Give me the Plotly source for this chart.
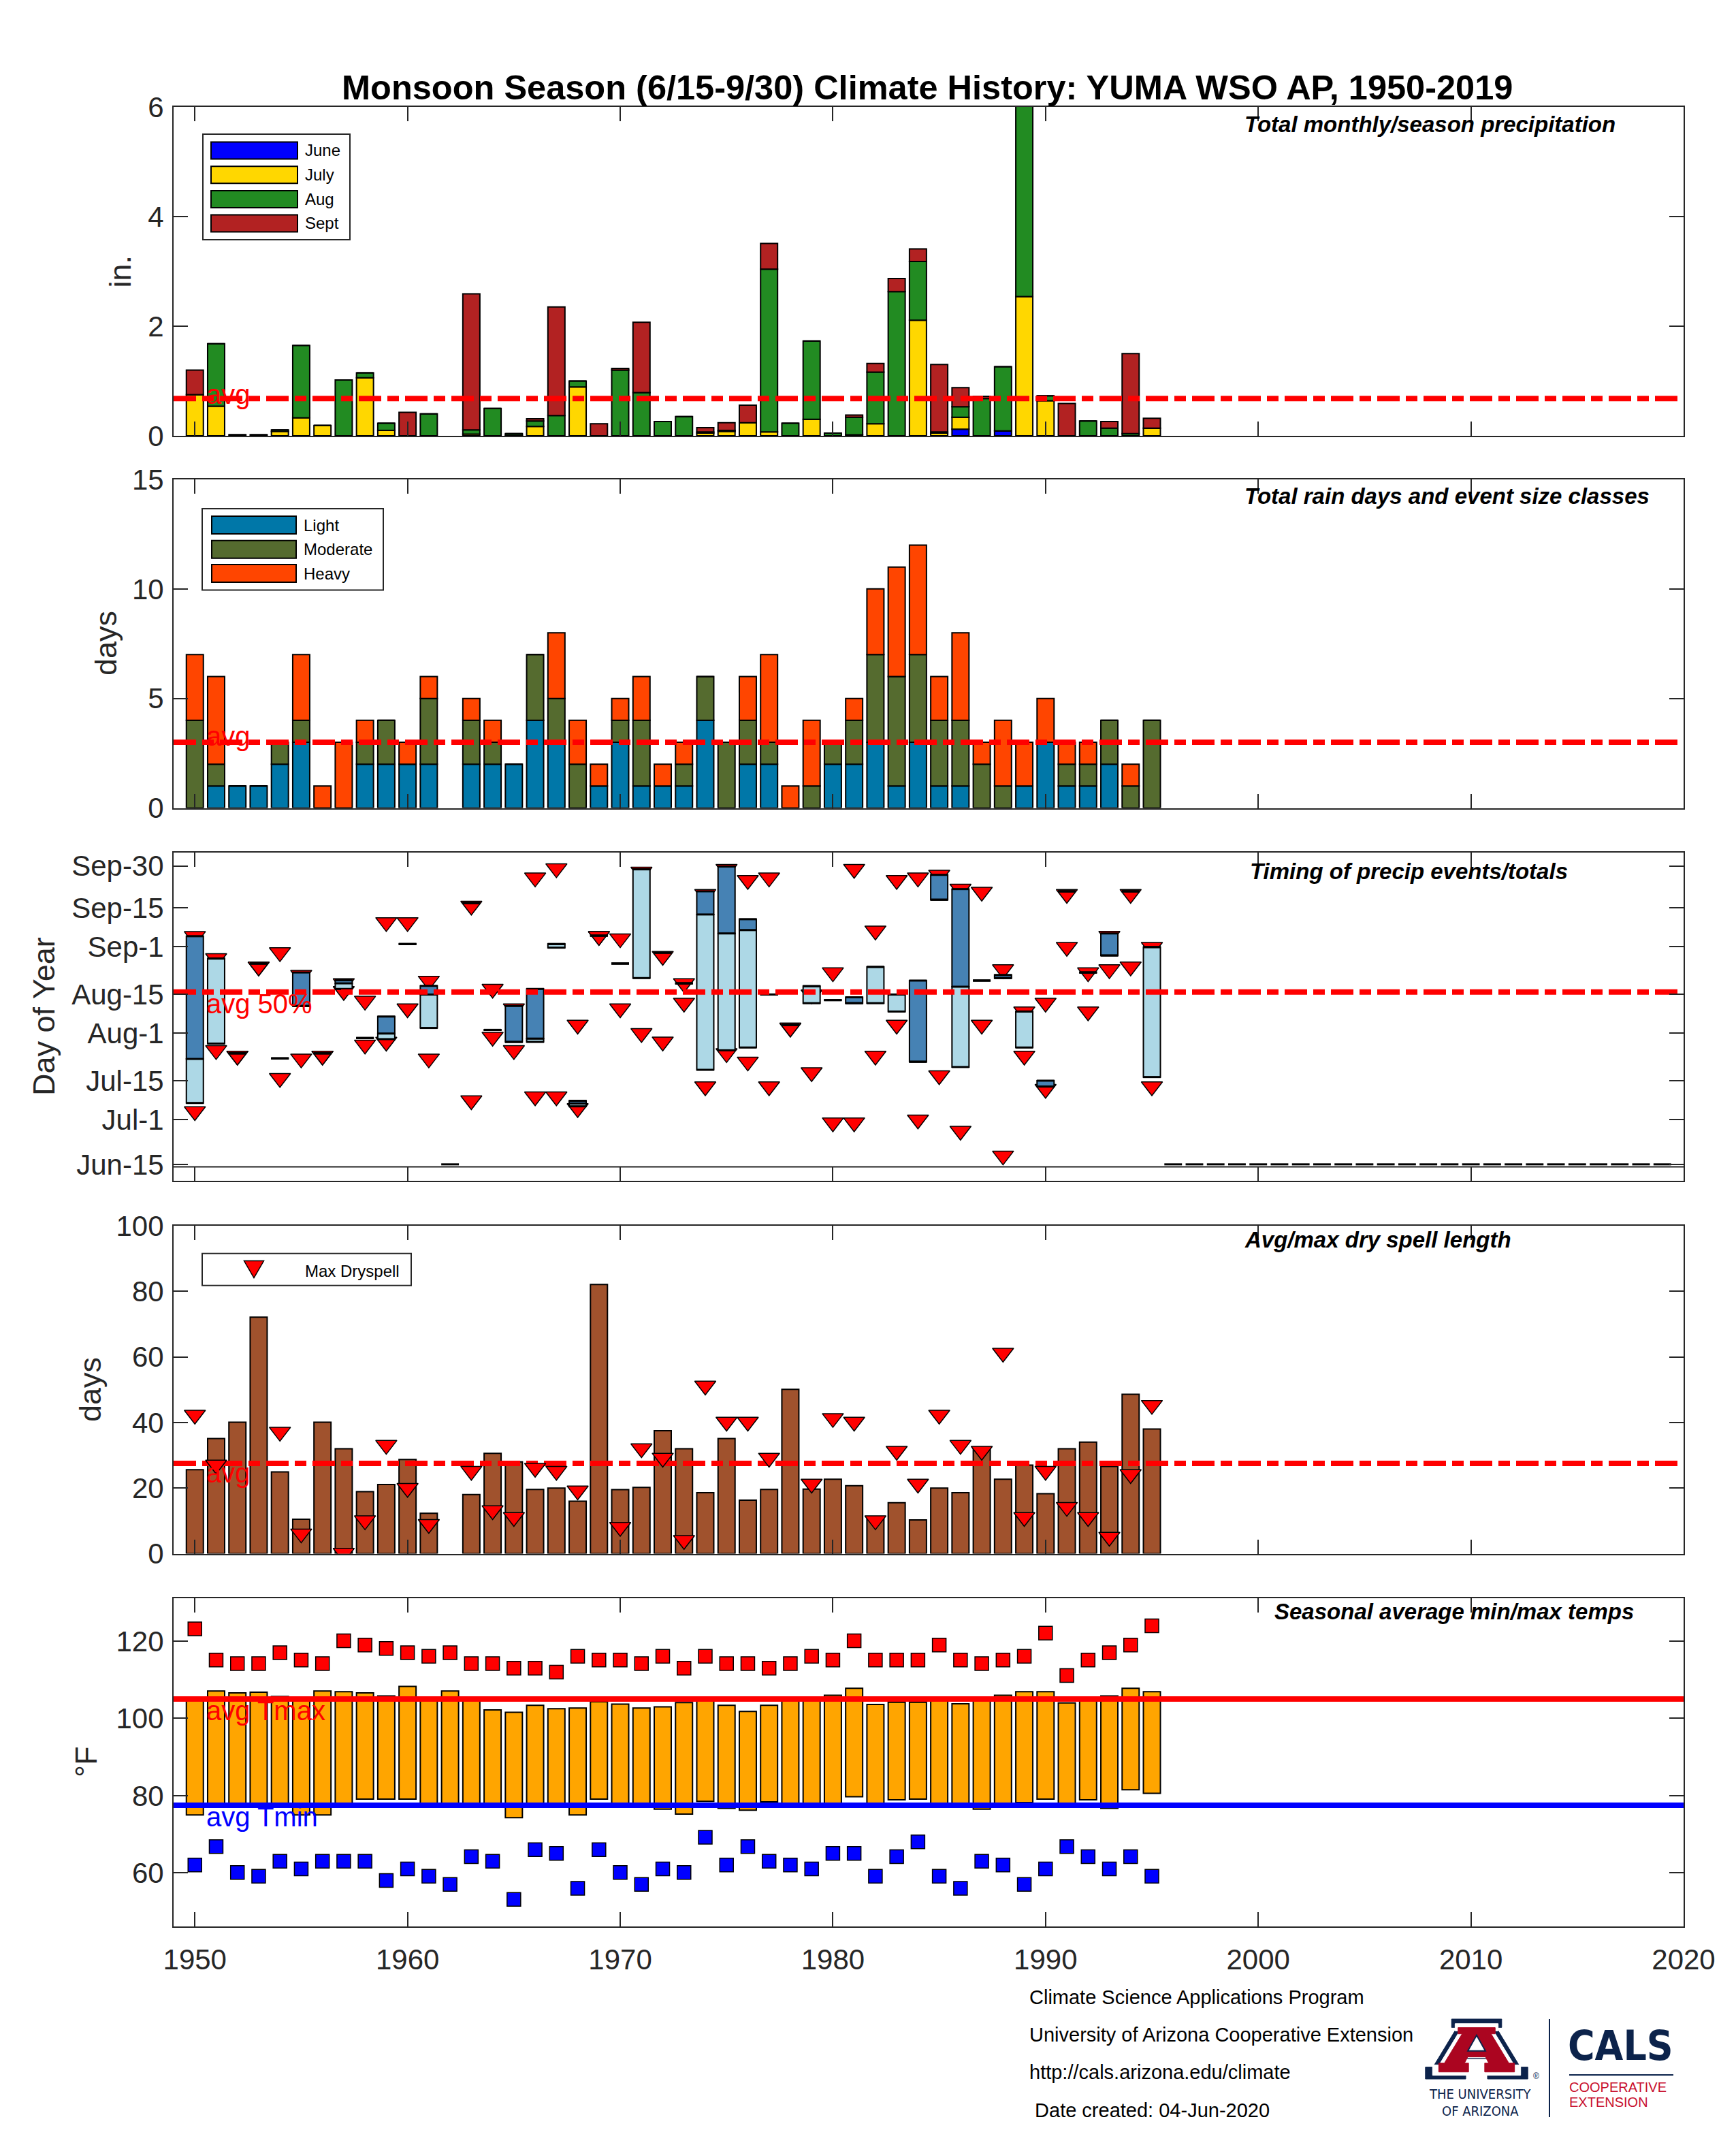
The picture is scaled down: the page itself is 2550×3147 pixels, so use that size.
import plotly.graph_objects as go

# ---------------------------------------------------------------- data
N = None
years = list(range(1950, 1996))

# Panel 1: monthly precipitation (in.)
precip_jun = [0, 0, 0, 0, 0, 0, 0, 0, 0, 0,
              0, 0, N, 0, 0, 0, 0, 0, 0, 0,
              0, 0, 0, 0, 0, 0, 0, 0, 0, 0,
              0, 0, 0, 0, 0, 0, 0.12, 0, 0.09, 0,
              0, 0, 0, 0, 0, 0]
precip_jul = [0.75, 0.54, 0, 0, 0.08, 0.33, 0.19, 0, 1.06, 0.10,
              0, 0, N, 0.03, 0, 0.01, 0.17, 0, 0.89, 0,
              0, 0, 0, 0, 0.05, 0.08, 0.24, 0.07, 0, 0.30,
              0, 0.02, 0.22, 0, 2.11, 0.05, 0.22, 0, 0, 2.54,
              0.64, 0, 0, 0, 0, 0.14]
precip_aug = [0, 1.14, 0.02, 0.02, 0.03, 1.32, 0, 1.02, 0.09, 0.13,
              0, 0.40, N, 0.08, 0.50, 0.03, 0.10, 0.37, 0.11, 0,
              1.20, 0.79, 0.26, 0.35, 0.02, 0.02, 0, 2.97, 0.23, 1.43,
              0.05, 0.32, 0.94, 2.63, 1.07, 0.02, 0.19, 0.68, 1.17, 3.55,
              0.09, 0, 0.27, 0.14, 0.04, 0]
precip_sep = [0.45, 0, 0, 0, 0, 0, 0, 0, 0, 0,
              0.43, 0, N, 2.48, 0, 0, 0.04, 1.98, 0, 0.22,
              0.03, 1.28, 0, 0, 0.08, 0.14, 0.32, 0.47, 0, 0,
              0, 0.04, 0.16, 0.24, 0.23, 1.23, 0.35, 0.04, 0, 0,
              0, 0.59, 0, 0.12, 1.46, 0.18]
avg_precip = 0.68

# Panel 2: rain days by event size
days_light = [0, 1, 1, 1, 2, 3, 0, 0, 2, 2,
              2, 2, N, 2, 2, 2, 4, 3, 0, 1,
              3, 1, 1, 1, 4, 0, 2, 2, 0, 0,
              2, 2, 3, 1, 3, 1, 1, 0, 0, 1,
              3, 1, 1, 2, 0, 0]
days_moderate = [4, 1, 0, 0, 1, 1, 0, 0, 1, 2,
                 0, 3, N, 2, 1, 0, 3, 2, 2, 0,
                 1, 3, 0, 1, 2, 3, 2, 1, 0, 1,
                 1, 2, 4, 5, 4, 3, 3, 2, 1, 0,
                 0, 1, 1, 2, 1, 4]
days_heavy = [3, 4, 0, 0, 0, 3, 1, 3, 1, 0,
              1, 1, N, 1, 1, 0, 0, 3, 2, 1,
              1, 2, 1, 1, 0, 0, 2, 4, 1, 3,
              0, 1, 3, 5, 5, 2, 4, 1, 3, 2,
              2, 1, 1, 0, 1, 0]
avg_days = 3.0

# Panel 3: timing (day of year)
timing_p25 = [188.0, 209.3, 205.8, 238.0, 204.0, 222.8, 205.8, 228.9, 211.3, 210.9,
              245.0, 214.9, N, 259.7, 214.2, 209.9, 209.9, 243.7, 186.8, 248.0,
              238.0, 232.8, 241.9, 230.9, 199.9, 206.9, 207.9, 226.9, 216.0, 223.8,
              224.9, 223.8, 223.8, 220.8, 202.8, 260.9, 200.9, 231.9, 232.8, 207.9,
              193.9, 263.9, 234.8, 240.9, 263.9, 197.3]
timing_p50 = [203.8, 239.8, 205.8, 238.0, 204.0, 222.8, 205.8, 230.9, 211.3, 212.9,
              245.0, 226.9, N, 259.7, 214.2, 209.9, 211.1, 245.0, 187.8, 248.0,
              238.0, 271.8, 241.9, 230.9, 255.6, 248.8, 250.0, 226.9, 216.0, 229.9,
              224.9, 223.8, 236.8, 226.9, 202.8, 260.9, 229.7, 231.9, 232.8, 220.8,
              193.9, 263.9, 234.8, 240.9, 263.9, 243.9]
timing_p75 = [247.8, 239.8, 205.8, 238.0, 204.0, 234.8, 205.8, 232.0, 211.3, 219.0,
              245.0, 230.0, N, 259.7, 214.2, 222.8, 228.9, 245.0, 188.8, 248.0,
              238.0, 271.8, 241.9, 230.9, 263.9, 272.8, 253.9, 226.9, 216.0, 229.9,
              224.9, 225.9, 236.8, 226.9, 231.9, 269.8, 264.7, 231.9, 233.9, 220.8,
              196.0, 263.9, 234.8, 248.8, 263.9, 243.9]
event_last = [247.8, 239.9, 204.9, 236.9, 242.0, 233.9, 204.9, 230.9, 224.6, 252.8,
              252.8, 231.8, N, 258.7, 228.9, 221.9, 268.8, 272.1, 216.0, 247.8,
              247.0, 270.9, 240.7, 230.9, 262.9, 271.9, 267.9, 268.8, 215.0, 226.9,
              234.8, 271.9, 249.8, 267.9, 268.8, 269.8, 264.8, 263.7, 235.9, 220.8,
              223.9, 262.9, 234.8, 247.9, 262.9, 243.9]
event_first = [185.0, 206.9, 204.9, 236.9, 196.9, 203.9, 204.9, 228.1, 208.9, 209.9,
               221.9, 203.9, N, 188.9, 211.7, 206.9, 190.3, 190.3, 186.1, 247.8,
               221.9, 213.0, 210.0, 223.9, 193.9, 205.8, 202.8, 193.9, 215.0, 199.0,
               181.0, 181.0, 204.9, 216.0, 182.0, 197.9, 178.0, 216.0, 169.1, 204.9,
               193.0, 243.9, 220.8, 235.9, 236.9, 193.9]
no_data_years = [1962, 1996, 1997, 1998, 1999, 2000, 2001, 2002, 2003, 2004, 2005,
                 2006, 2007, 2008, 2009, 2010, 2011, 2012, 2013, 2014, 2015,
                 2016, 2017, 2018, 2019]
no_data_day = 166
timing_base_line = 165.1
avg_timing50 = 227.8
timing_tick_days = [166, 182, 196, 213, 227, 244, 258, 273]
timing_tick_labels = ["Jun-15", "Jul-1", "Jul-15", "Aug-1", "Aug-15", "Sep-1", "Sep-15", "Sep-30"]

# Panel 4: dry spells (days)
dryspell_avg = [25.6, 35.1, 40.1, 72.1, 24.9, 10.5, 40.1, 32.0, 18.9, 21.1,
                28.7, 12.3, N, 18.0, 30.6, 28.0, 19.6, 20.0, 16.0, 82.1,
                19.5, 20.2, 37.5, 32.0, 18.6, 35.1, 16.3, 19.6, 50.1, 19.7,
                22.7, 20.7, 11.0, 15.5, 10.3, 20.0, 18.6, 32.5, 22.7, 27.0,
                18.3, 32.0, 34.0, 26.6, 48.6, 38.0]
dryspell_max = [42.3, 27.1, N, N, 37.1, 6.1, N, 0.2, 10.1, 33.1,
                20.0, 9.0, N, 25.2, 13.2, 11.1, 26.1, 25.2, 19.2, N,
                8.1, 32.1, 29.2, 4.1, 51.2, 40.2, 40.2, 29.2, N, 21.3,
                41.3, 40.2, 10.1, 31.3, 21.3, 42.3, 33.1, 31.3, 61.2, 11.1,
                25.2, 14.2, 11.1, 5.1, 24.2, 45.3]
avg_dryspell = 27.5

# Panel 5: temperatures (F)
tmax_mean = [104.6, 107.1, 106.6, 106.8, 105.7, 105.0, 107.1, 106.9, 106.6, 105.8,
             108.3, 104.8, 107.1, 104.6, 102.2, 101.6, 103.4, 102.5, 102.7, 104.3,
             103.7, 102.7, 103.0, 104.1, 104.6, 103.4, 101.8, 103.4, 104.8, 104.8,
             106.0, 107.8, 103.6, 104.2, 104.2, 104.8, 103.8, 104.8, 106.0, 106.9,
             106.9, 104.0, 104.8, 105.8, 107.8, 106.9]
tmin_mean = [75.0, 78.0, 78.0, 78.0, 78.0, 75.0, 75.0, 78.0, 79.1, 79.1,
             79.1, 78.0, 78.0, 78.0, 78.0, 74.3, 78.0, 78.0, 75.0, 79.1,
             78.0, 78.0, 76.5, 75.2, 78.5, 76.7, 76.2, 78.4, 78.0, 78.0,
             78.0, 79.7, 78.0, 78.9, 79.1, 78.0, 78.0, 76.5, 78.0, 78.2,
             79.1, 78.0, 78.9, 76.7, 81.5, 80.6]
tmax_extreme = [123.2, 115.1, 114.2, 114.2, 117.0, 115.1, 114.2, 120.1, 119.0, 118.1,
                117.0, 116.1, 117.0, 114.2, 114.2, 113.0, 113.0, 112.0, 116.1, 115.1,
                115.1, 114.2, 116.1, 113.0, 116.1, 114.2, 114.2, 113.0, 114.2, 116.1,
                115.1, 120.1, 115.1, 115.1, 115.1, 119.0, 115.1, 114.2, 115.1, 116.1,
                122.1, 111.1, 115.1, 117.0, 119.0, 124.0]
tmin_extreme = [62.0, 66.8, 60.1, 59.1, 63.0, 61.0, 63.0, 63.0, 63.0, 58.0,
                61.0, 59.1, 57.0, 64.2, 63.0, 53.1, 66.0, 65.0, 56.0, 66.0,
                60.1, 57.0, 61.0, 60.1, 69.2, 62.0, 66.8, 63.0, 62.0, 61.0,
                65.0, 65.0, 59.1, 64.2, 68.0, 59.1, 56.0, 63.0, 62.0, 57.0,
                61.0, 66.8, 64.2, 61.0, 64.2, 59.1]
avg_tmax = 105.0
avg_tmin = 77.5

x_ticks = [1950, 1960, 1970, 1980, 1990, 2000, 2010, 2020]
x_range = [1949, 2020]

# ---------------------------------------------------------------- style
FONT = "Liberation Sans, Arial, Helvetica, sans-serif"
NARROW = "Liberation Sans Narrow, Arial Narrow, DejaVu Sans Condensed, Liberation Sans, sans-serif"
AXC = "#262626"
DASHDOT = "33px,9px,17px,9px"
NAVY = "#0C234B"
AZRED = "#AB0520"

# page geometry (browser body has an 8px margin)
PAGE_W, PAGE_H = 2550, 3147
BODY = 8
FIG_W, FIG_H = PAGE_W - 2 * BODY, PAGE_H - 2 * BODY
L, R, T, B = 255, 2473, 157, 2829   # plot area in page pixels


def px(X):
    return (X - L) / (R - L)


def py(Y):
    return (B - Y) / (B - T)


panel_px = [(157, 640), (704, 1186.5), (1252, 1734), (1800, 2281.5), (2346.6, 2829)]


def add(a, b):
    return [None if (u is None or v is None) else u + v for u, v in zip(a, b)]


def sub(a, b):
    return [None if (u is None or v is None) else u - v for u, v in zip(a, b)]


def bar(x, y, base, color, i, ya=None):
    return go.Bar(x=x, y=y, base=base, width=0.8,
                  marker=dict(color=color, line=dict(color="black", width=2)),
                  xaxis=f"x{i}", yaxis=ya or f"y{i}", showlegend=False)


def hline(val, i, color, width, dash="solid", ya=None):
    return go.Scatter(x=x_range, y=[val, val], mode="lines",
                      line=dict(color=color, width=width, dash=dash),
                      xaxis=f"x{i}", yaxis=ya or f"y{i}", showlegend=False)


fig = go.Figure()

# Panel 1
b_aug = add(precip_jun, precip_jul)
b_sep = add(b_aug, precip_aug)
fig.add_trace(bar(years, precip_jun, [0] * len(years), "#0000FF", 1))
fig.add_trace(bar(years, precip_jul, precip_jun, "#FFD700", 1))
fig.add_trace(bar(years, precip_aug, b_aug, "#228B22", 1))
fig.add_trace(bar(years, precip_sep, b_sep, "#B22222", 1))
fig.add_trace(hline(avg_precip, 1, "#FF0000", 8, DASHDOT))

# Panel 2
b_mod = days_light
b_hvy = add(days_light, days_moderate)
fig.add_trace(bar(years, days_light, [0] * len(years), "#0077A8", 2))
fig.add_trace(bar(years, days_moderate, b_mod, "#556B2F", 2))
fig.add_trace(bar(years, days_heavy, b_hvy, "#FF4500", 2))
fig.add_trace(hline(avg_days, 2, "#FF0000", 8, DASHDOT))

# Panel 3 (triangles on base axis, boxes on overlay axis above them)
fig.add_trace(go.Scatter(x=years + years, y=event_last + event_first, mode="markers",
                         marker=dict(symbol="triangle-down", size=27, color="#FF0000",
                                     line=dict(color="black", width=1.5)),
                         xaxis="x3", yaxis="y3", showlegend=False))
fig.add_trace(hline(timing_base_line, 3, AXC, 2, ya="y6"))
fig.add_trace(bar(years, sub(timing_p50, timing_p25), timing_p25, "#ADD8E6", 3, ya="y6"))
fig.add_trace(bar(years, sub(timing_p75, timing_p50), timing_p50, "#4682B4", 3, ya="y6"))
fig.add_trace(go.Scatter(
    x=years + years + years + no_data_years,
    y=timing_p25 + timing_p50 + timing_p75 + [no_data_day] * len(no_data_years),
    mode="markers",
    marker=dict(symbol="line-ew", size=18.5, color="black", line=dict(color="black", width=3)),
    xaxis="x3", yaxis="y6", showlegend=False))
fig.add_trace(hline(avg_timing50, 3, "#FF0000", 8, DASHDOT, ya="y6"))

# Panel 4
fig.add_trace(bar(years, dryspell_avg, [0] * len(years), "#A0522D", 4))
fig.add_trace(hline(avg_dryspell, 4, "#FF0000", 8, DASHDOT))
fig.add_trace(go.Scatter(x=years, y=dryspell_max, mode="markers",
                         marker=dict(symbol="triangle-down", size=27, color="#FF0000",
                                     line=dict(color="black", width=1.5)),
                         xaxis="x4", yaxis="y4", showlegend=False))

# Panel 5
fig.add_trace(bar(years, sub(tmax_mean, tmin_mean), tmin_mean, "#FFA500", 5))
fig.add_trace(hline(avg_tmax, 5, "#FF0000", 8))
fig.add_trace(hline(avg_tmin, 5, "#0000FF", 8))
fig.add_trace(go.Scatter(x=years, y=tmax_extreme, mode="markers",
                         marker=dict(symbol="square", size=20, color="#FF0000",
                                     line=dict(color="black", width=1.5)),
                         xaxis="x5", yaxis="y5", showlegend=False))
fig.add_trace(go.Scatter(x=years, y=tmin_extreme, mode="markers",
                         marker=dict(symbol="square", size=20, color="#0000FF",
                                     line=dict(color="black", width=1.5)),
                         xaxis="x5", yaxis="y5", showlegend=False))

# ---------------------------------------------------------------- axes
y_ranges = [[0, 6], [0, 15], [160.1, 277.8], [0, 100], [46.1, 131.2]]
y_tickvals = [[0, 2, 4, 6], [0, 5, 10, 15], timing_tick_days,
              [0, 20, 40, 60, 80, 100], [60, 80, 100, 120]]
y_ticktext = [None, None, timing_tick_labels, None, None]

axis_common = dict(ticks="inside", ticklen=21, tickwidth=2, tickcolor=AXC,
                   showline=True, linewidth=2, linecolor=AXC, mirror="ticks",
                   showgrid=False, zeroline=False,
                   tickfont=dict(family=FONT, size=42, color=AXC))
layout_axes = {}
for i in range(1, 6):
    top, bot = panel_px[i - 1]
    layout_axes[f"xaxis{i}"] = dict(axis_common, domain=[0, 1], range=x_range,
                                    anchor=f"y{i}", tickvals=x_ticks,
                                    showticklabels=(i == 5), ticklabelstandoff=11)
    ya = dict(axis_common, domain=[py(bot), py(top)], range=y_ranges[i - 1],
              anchor=f"x{i}", tickvals=y_tickvals[i - 1], ticklabelstandoff=4)
    if y_ticktext[i - 1] is not None:
        ya["ticktext"] = y_ticktext[i - 1]
    layout_axes[f"yaxis{i}"] = ya
layout_axes["yaxis6"] = dict(overlaying="y3", anchor="x3", range=y_ranges[2],
                             showticklabels=False, ticks="", showline=False,
                             showgrid=False, zeroline=False)

# ---------------------------------------------------------------- annotations
ann = []


def text(X, Y, s, size, color="black", xanchor="left", yanchor="middle", family=FONT, angle=0):
    ann.append(dict(x=px(X), y=py(Y), xref="paper", yref="paper", text=s, showarrow=False,
                    xanchor=xanchor, yanchor=yanchor, textangle=angle,
                    font=dict(family=family, size=size, color=color)))


text(1362, 129, "<b>Monsoon Season (6/15-9/30) Climate History: YUMA WSO AP, 1950-2019</b>",
     50.5, xanchor="center")

for s, X, Y in [("in.", 176, 398.5), ("days", 156, 945), ("Day of Year", 64, 1493),
                ("days", 132, 2041), ("°F", 126, 2588)]:
    text(X, Y, s, 45, AXC, xanchor="center", angle=-90)

for s, X, Y in [("Total monthly/season precipitation", 1826, 182),
                ("Total rain days and event size classes", 1826, 728),
                ("Timing of precip events/totals", 1834, 1279),
                ("Avg/max dry spell length", 1826, 1820),
                ("Seasonal average min/max temps", 1870, 2366)]:
    text(X, Y, f"<b><i>{s}</i></b>", 33)

for s, i, val, shift, col in [("avg", 1, avg_precip, 6, "#FF0000"),
                              ("avg", 2, avg_days, 9, "#FF0000"),
                              ("avg 50%", 6, avg_timing50, -17, "#FF0000"),
                              ("avg", 4, avg_dryspell, -14, "#FF0000"),
                              ("avg Tmax", 5, avg_tmax, -17, "#FF0000"),
                              ("avg Tmin", 5, avg_tmin, -17, "#0000FF")]:
    xr = "x3" if i == 6 else f"x{i}"
    ann.append(dict(x=1950.47, y=val, xref=xr, yref=f"y{i}", text=s, showarrow=False,
                    xanchor="left", yanchor="middle", yshift=shift,
                    font=dict(family=FONT, size=40, color=col)))

# ---------------------------------------------------------------- legends (drawn manually)
shapes = []


def rect(X0, Y0, X1, Y1, fill, line="black", lw=2):
    shapes.append(dict(type="rect", xref="paper", yref="paper",
                       x0=px(X0), x1=px(X1), y0=py(Y1), y1=py(Y0),
                       fillcolor=fill, line=dict(color=line, width=lw), layer="above"))


rect(298, 197, 514, 352, "white", AXC, 2)
for lab, col, yc in [("June", "#0000FF", 221), ("July", "#FFD700", 256.7),
                     ("Aug", "#228B22", 292.6), ("Sept", "#B22222", 328)]:
    rect(310, yc - 12.5, 437, yc + 12.5, col)
    text(446, yc, lab, 24)

rect(297, 747, 563, 866.5, "white", AXC, 2)
for lab, col, yc in [("Light", "#0077A8", 771), ("Moderate", "#556B2F", 806.7),
                     ("Heavy", "#FF4500", 842)]:
    rect(311, yc - 13, 435, yc + 13, col)
    text(444, yc, lab, 24)

rect(297, 1840.7, 604, 1887.8, "white", AXC, 2)
tri = [(358.5, 1851.5), (387.5, 1851.5), (373, 1876.5)]
shapes.append(dict(type="path", xref="paper", yref="paper",
                   path="M" + " L".join(f"{px(a):.5f},{py(b):.5f}" for a, b in tri) + " Z",
                   fillcolor="#FF0000", line=dict(color="black", width=1.5), layer="above"))
text(446, 1866, "Max Dryspell", 24)

# ---------------------------------------------------------------- footer
FY = 9  # footer vertical offset
for s, Y in [("Climate Science Applications Program", 2924),
             ("University of Arizona Cooperative Extension", 2979),
             ("http://cals.arizona.edu/climate", 3034),
             (" Date created: 04-Jun-2020", 3090)]:
    text(1510, Y + FY, s, 29)

A_outer = [(0.27, 0.00), (0.73, 0.00), (0.73, 0.14), (0.68, 0.14), (0.90, 0.80), (0.97, 0.80),
           (0.97, 1.00), (0.60, 1.00), (0.60, 0.80), (0.65, 0.80), (0.61, 0.66), (0.39, 0.66),
           (0.35, 0.80), (0.40, 0.80), (0.40, 1.00), (0.03, 1.00), (0.03, 0.80), (0.10, 0.80),
           (0.32, 0.14), (0.27, 0.14)]
A_counter = [(0.42, 0.53), (0.58, 0.53), (0.50, 0.27)]


def logo_path(pts, s):
    out = []
    for u, v in pts:
        uu = 0.5 + (u - 0.5) * s
        vv = 0.55 + (v - 0.55) * s
        X = 2089 + uu * 160
        Y = 2956 + FY + vv * 88
        out.append(f"{px(X):.5f},{py(Y):.5f}")
    return "M" + " L".join(out) + " Z"


for pts, s, fill, lc, lw in [(A_outer, 1.0, NAVY, NAVY, 1), (A_outer, 0.86, "white", "white", 1),
                             (A_outer, 0.74, AZRED, AZRED, 1), (A_counter, 1.0, "white", NAVY, 2)]:
    shapes.append(dict(type="path", xref="paper", yref="paper", path=logo_path(pts, s),
                       fillcolor=fill, line=dict(color=lc, width=lw), layer="above"))
text(2250, 3040 + FY, "®", 12, NAVY)
text(2174, 3066 + FY, "THE UNIVERSITY", 20, NAVY, xanchor="center", family=NARROW)
text(2174, 3091 + FY, "OF ARIZONA", 20, NAVY, xanchor="center", family=NARROW)
shapes.append(dict(type="line", xref="paper", yref="paper", x0=px(2276), x1=px(2276),
                   y0=py(2956 + FY), y1=py(3100 + FY), line=dict(color=NAVY, width=2)))
text(2301, 2999 + 5, "<b>CALS</b>", 60, NAVY, family=NARROW)
shapes.append(dict(type="line", xref="paper", yref="paper", x0=px(2305), x1=px(2458),
                   y0=py(3038 + FY), y1=py(3038 + FY), line=dict(color=NAVY, width=2)))
text(2303, 3056 + FY, "COOPERATIVE", 20, "#C8102E")
text(2303, 3078 + FY, "EXTENSION", 20, "#C8102E")

fig.update_layout(
    width=FIG_W, height=FIG_H, autosize=False,
    margin=dict(l=L - BODY, r=FIG_W - (R - BODY), t=T - BODY, b=FIG_H - (B - BODY), pad=0),
    paper_bgcolor="white", plot_bgcolor="white",
    barmode="overlay", showlegend=False, hovermode=False,
    font=dict(family=FONT, color=AXC),
    annotations=ann, shapes=shapes,
    **layout_axes,
)

fig.write_html("out.html")
